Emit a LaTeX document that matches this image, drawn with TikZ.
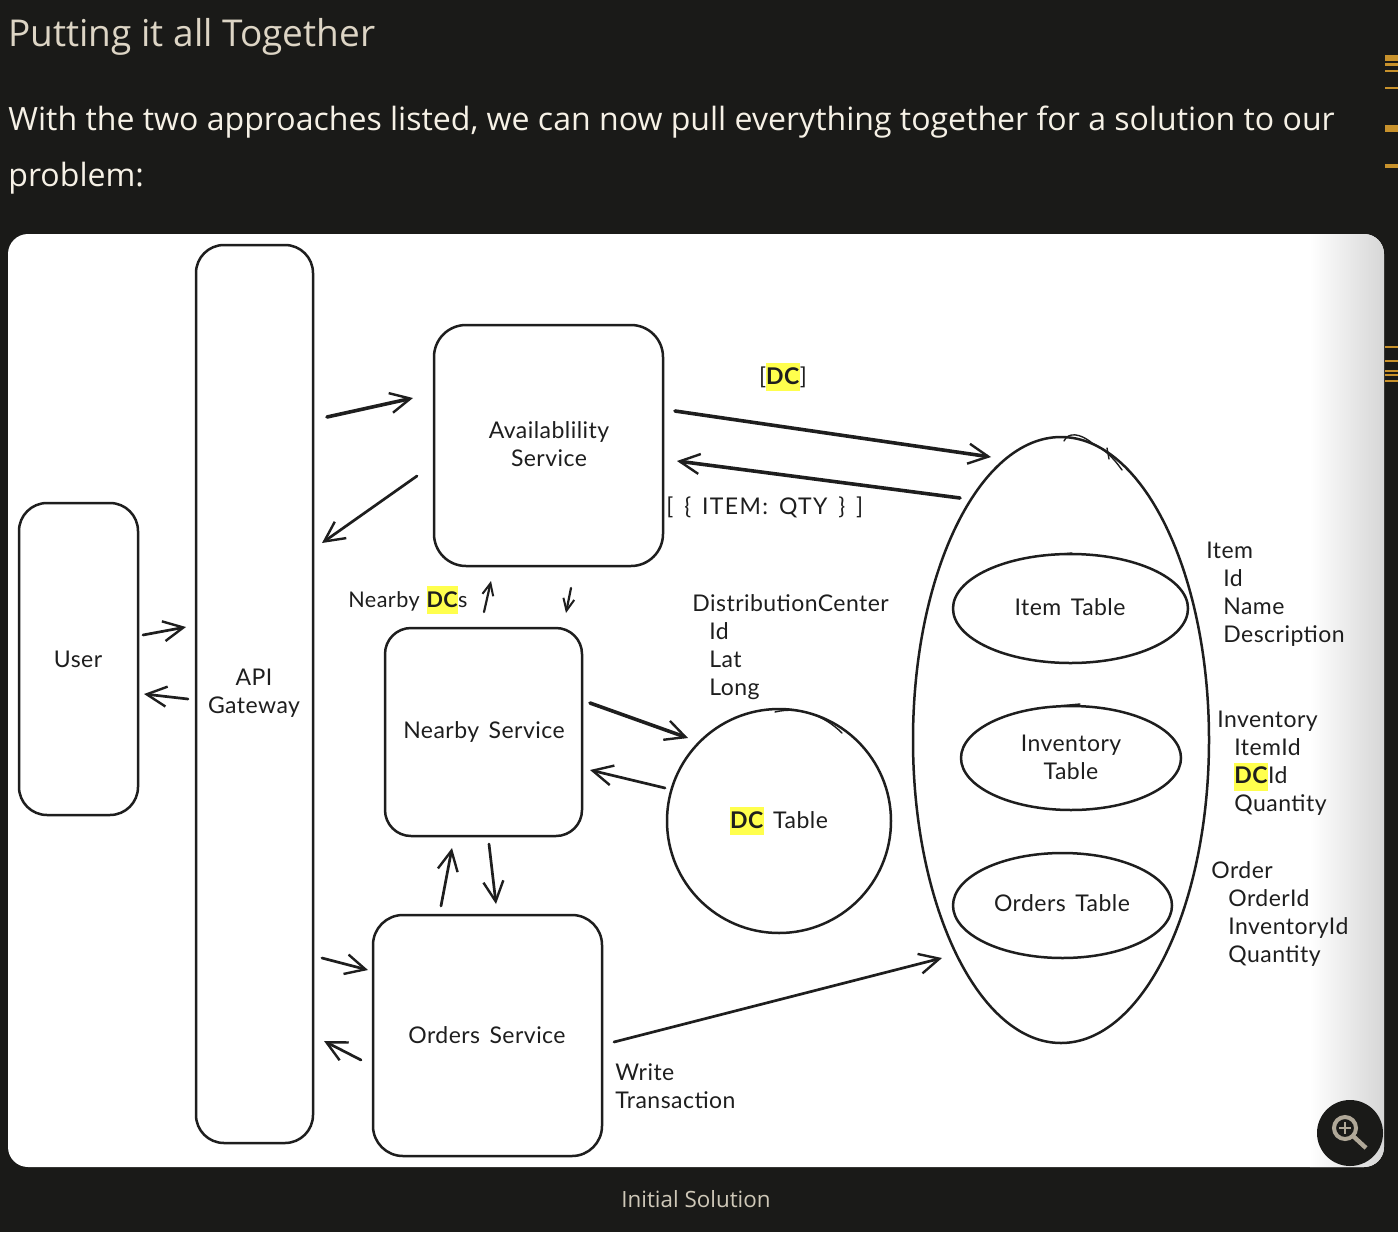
\documentclass[tikz,border=0pt]{standalone}
\usepackage{fontspec}
\setmainfont{Open Sans}
\newfontfamily\handfont[LetterSpace=2,WordSpace=1.5]{Lato}
\usetikzlibrary{arrows.meta,shapes.geometric}
\definecolor{pagebg}{HTML}{1A1A18}
\definecolor{titlecol}{HTML}{DDD5C5}
\definecolor{bodycol}{HTML}{F6F1E6}
\definecolor{capcol}{HTML}{CFC8B8}
\definecolor{ink}{HTML}{1E1E1E}
\definecolor{hlcol}{HTML}{FFFF4D}
\definecolor{iconcol}{HTML}{B0A898}
\definecolor{markcol}{HTML}{C8922C}
\newcommand{\hlt}[1]{{\setlength{\fboxsep}{0pt}\colorbox{hlcol}{\rule[-3.4pt]{0pt}{14pt}\textbf{#1}}}}
\newcommand{\ind}{\hspace*{8.5pt}}
\tikzset{
  x=0.5pt,y=-0.5pt,
  box/.style={draw=ink,line width=1.25pt,fill=white,rounded corners=14pt,inner sep=0pt,outer sep=0pt},
  oval/.style={draw=ink,line width=1.25pt,fill=white,ellipse,inner sep=0pt,outer sep=0pt},
  hand/.style={font=\handfont\fontsize{11.5}{14}\selectfont,text=ink,inner sep=0pt,align=center},
  handl/.style={hand,align=left,anchor=north west},
  arr/.style={draw=ink,line width=1.35pt,line cap=round,-{Straight Barb[length=10pt,width=10pt,line width=1.2pt]}},
  arrthick/.style={arr,line width=1.8pt},
  arrsmall/.style={draw=ink,line width=1.1pt,line cap=round,-{Straight Barb[length=6pt,width=5.5pt,line width=1pt]}},
  sketch/.style={draw=ink,line width=0.7pt,line cap=round}
}
\begin{document}
\begin{tikzpicture}
\useasboundingbox (0,0) rectangle (1398,1232);
\fill[pagebg] (0,0) rectangle (1398,1232);
\foreach \a/\b in {55/61,63/66,70/72,87/89,125/132,164/168,346/348,360/362,370/372,374/376,380/382}
  \fill[markcol] (1385,\a) rectangle (1398,\b);
\node[anchor=base west,inner sep=0pt,text=titlecol,font=\fontsize{18.5}{22}\selectfont] (title) at (8,46) {Putting it all Together};
\node[anchor=base west,inner sep=0pt,text=bodycol,font=\fontsize{16.03}{28}\selectfont,align=left] (para) at (8,186) {With the two approaches listed, we can now pull everything together for a solution to our\\problem:};
\fill[white,rounded corners=10pt] (8,234) rectangle (1384,1167);
\begin{scope}
\clip[rounded corners=10pt] (8,234) rectangle (1384,1167);
\shade[left color=white,right color=black!16] (1310,234) rectangle (1384,1167);
\end{scope}
\node[anchor=base,inner sep=0pt,text=capcol,font=\fontsize{11.2}{14}\selectfont] (cap) at (696,1207) {Initial Solution};

% boxes
\node[box,minimum width=58.5pt,minimum height=449pt] (api) at (254.5,694) {};
\node[box,minimum width=59.5pt,minimum height=156pt] (user) at (78.5,659) {};
\node[box,rounded corners=16pt,minimum width=114.5pt,minimum height=120.5pt] (avail) at (548.5,445.5) {};
\node[box,rounded corners=13pt,minimum width=98.5pt,minimum height=104pt] (nearby) at (483.5,732) {};
\node[box,rounded corners=15pt,minimum width=114.5pt,minimum height=120.5pt] (orders) at (487.5,1035.5) {};
\node[oval,minimum width=148pt,minimum height=303pt] (big) at (1061,740) {};
\node[oval,minimum width=117.5pt,minimum height=54.5pt] (itemt) at (1070.5,608.5) {};
\node[oval,minimum width=110pt,minimum height=52pt] (invt) at (1071,758) {};
\node[oval,minimum width=109.5pt,minimum height=52.5pt] (ordt) at (1062.5,905.5) {};
\node[oval,minimum width=112pt,minimum height=112pt] (dct) at (779,821) {};

% sketch overstrokes at the ellipse seams
\draw[sketch] (1064,441) .. controls (1068,432) and (1080,433) .. (1092,443) .. controls (1104,449) and (1112,456) .. (1122,470);
\draw[sketch] (1107,448) -- (1109,459);
\draw[sketch] (775,712) .. controls (800,706) and (825,716) .. (842,733);
\draw[sketch] (1050,555) -- (1072,553);
\draw[sketch] (1058,706) -- (1080,704);

% box labels
\node[hand] (lapi) at (254,693) {API\\Gateway};
\node[hand] (luser) at (78,659) {User};
\node[hand] (lavail) at (549,444) {Availablility\\Service};
\node[hand] (lnear) at (484,732) {Nearby Service};
\node[hand] (lord) at (487,1035) {Orders Service};
\node[hand] (litem) at (1070,607) {Item Table};
\node[hand] (linv) at (1071,757) {Inventory\\Table};
\node[hand] (lordt) at (1062,903) {Orders Table};
\node[hand] (ldc) at (779,821) {\hlt{DC} Table};

% free labels
\node[hand] (ldcl) at (783,377) {[\hlt{DC}]};
\node[hand,anchor=west] (lqty) at (666,507) {\addfontfeature{LetterSpace=6}[ \{ ITEM: QTY \} ]};
\node[hand,anchor=west] (lnd) at (348,600) {\fontsize{10.8}{14}\selectfont Nearby\kern-1pt{} \hlt{DC}s};
\node[handl] (sdc) at (692,594) {DistributionCenter\\\ind Id\\\ind Lat\\\ind Long};
\node[handl] (sitem) at (1206,542) {Item\\\ind Id\\\ind Name\\\ind Description};
\node[handl] (sinv) at (1217,711) {Inventory\\\ind ItemId\\\ind \hlt{DC}Id\\\ind Quantity};
\node[handl] (sord) at (1211,861) {Order\\\ind OrderId\\\ind InventoryId\\\ind Quantity};
\node[handl] (lwt) at (615,1063) {Write\\Transaction};

% connector ends
\coordinate (a1) at (143,635); \coordinate (a2) at (186,627);
\coordinate (b1) at (188,699); \coordinate (b2) at (144,694);
\coordinate (c1) at (327,417); \coordinate (c2) at (413,398);
\coordinate (d1) at (417,476); \coordinate (d2) at (322,543);
\coordinate (e1) at (675,411); \coordinate (e2) at (991,457);
\coordinate (f1) at (960,498); \coordinate (f2) at (677,461);
\coordinate (g1) at (484,612); \coordinate (g2) at (491,581);
\coordinate (h1) at (571,588); \coordinate (h2) at (566,613);
\coordinate (i1) at (590,703); \coordinate (i2) at (688,738);
\coordinate (j1) at (665,788); \coordinate (j2) at (590,770);
\coordinate (k1) at (441,906); \coordinate (k2) at (452,848);
\coordinate (l1) at (489,844); \coordinate (l2) at (496,904);
\coordinate (m1) at (322,958); \coordinate (m2) at (368,970);
\coordinate (n1) at (361,1060); \coordinate (n2) at (324,1041);
\coordinate (o1) at (614,1042); \coordinate (o2) at (942,958);
\foreach \s/\t in {a1/a2,b1/b2,d1/d2,j1/j2,k1/k2,l1/l2,m1/m2,n1/n2,o1/o2}
  \draw[arr] (\s) -- (\t);
\foreach \s/\t in {c1/c2,e1/e2,f1/f2,i1/i2}
  \draw[arrthick] (\s) -- (\t);
\foreach \s/\t in {g1/g2,h1/h2}
  \draw[arrsmall] (\s) -- (\t);

% zoom button
\fill[pagebg] (1350,1133) circle (33);
\draw[iconcol,line width=2pt] (1345,1128) circle (11);
\draw[iconcol,line width=2.2pt] (1353,1136) -- (1366,1148);
\draw[iconcol,line width=0.8pt] (1339,1128) -- (1351,1128) (1345,1122) -- (1345,1134);
\end{tikzpicture}
\end{document}
